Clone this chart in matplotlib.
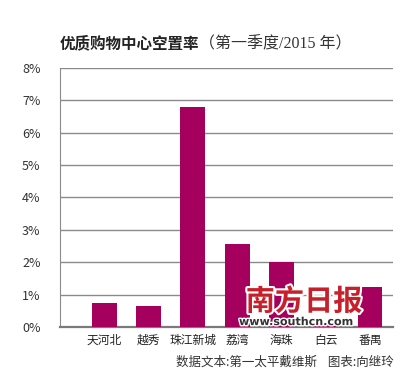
import numpy as np
from matplotlib import pyplot as plt
import matplotlib.patheffects as pe

plt.rcParams['font.family'] = ['Noto Sans CJK SC', 'DejaVu Sans']

districts = ['天河北', '越秀', '珠江新城', '荔湾', '海珠', '白云', '番禺']
vacancy = [0.73, 0.66, 6.78, 2.55, 2.0, 0.13, 1.22]   # percent
yticks = [0, 1, 2, 3, 4, 5, 6, 7, 8]

fig = plt.figure(figsize=(4.0, 3.89), dpi=100)
ax = fig.add_axes([0.15, 0.1594, 0.8325, 0.6666])

x = np.arange(len(districts))
ax.bar(x, vacancy, width=0.56, color='#A6005F', zorder=3)

ax.set_ylim(0, 8)
ax.set_xlim(-1.0, 6.52)
ax.set_yticks(yticks)
ax.set_yticklabels([str(t) + '%' for t in yticks], fontsize=9, color='#333333')
ax.set_xticks(x)
ax.set_xticklabels(districts, fontsize=8.5, color='#222222')
ax.tick_params(length=0, pad=5)
ax.tick_params(axis='y', pad=14)
ax.grid(axis='y', color='#8a8a8a', linewidth=1.0, zorder=0)
for s in ['top', 'right']:
    ax.spines[s].set_visible(False)
ax.spines['left'].set_color('#8a8a8a')
ax.spines['bottom'].set_color('#7a7a7a')
ax.spines['bottom'].set_linewidth(1.6)

# title
fig.text(0.15, 0.888, '优质购物中心空置率', fontsize=11.2, fontweight='bold',
         color='#222222', va='center')
fig.text(0.497, 0.886, '（第一季度/2015 年）', fontsize=11.5, color='#333333',
         va='center', family=['Liberation Serif', 'Noto Sans CJK SC'])

# source line
fig.text(0.985, 0.068, '数据文本:第一太平戴维斯    图表:向继玲', fontsize=9,
         color='#333333', ha='right', va='center')

# newspaper watermark
fig.text(0.76, 0.225, '南方日报', fontsize=21, color='#C8202A', ha='center',
         va='center', fontweight='bold', style='italic',
         path_effects=[pe.withStroke(linewidth=3, foreground='white')])
fig.text(0.74, 0.172, 'www.southcn.com', fontsize=8, color='#333333',
         ha='center', va='center', fontweight='bold', family='DejaVu Sans',
         path_effects=[pe.withStroke(linewidth=2, foreground='white')])

fig.savefig('out.png', dpi=100, facecolor='white')
